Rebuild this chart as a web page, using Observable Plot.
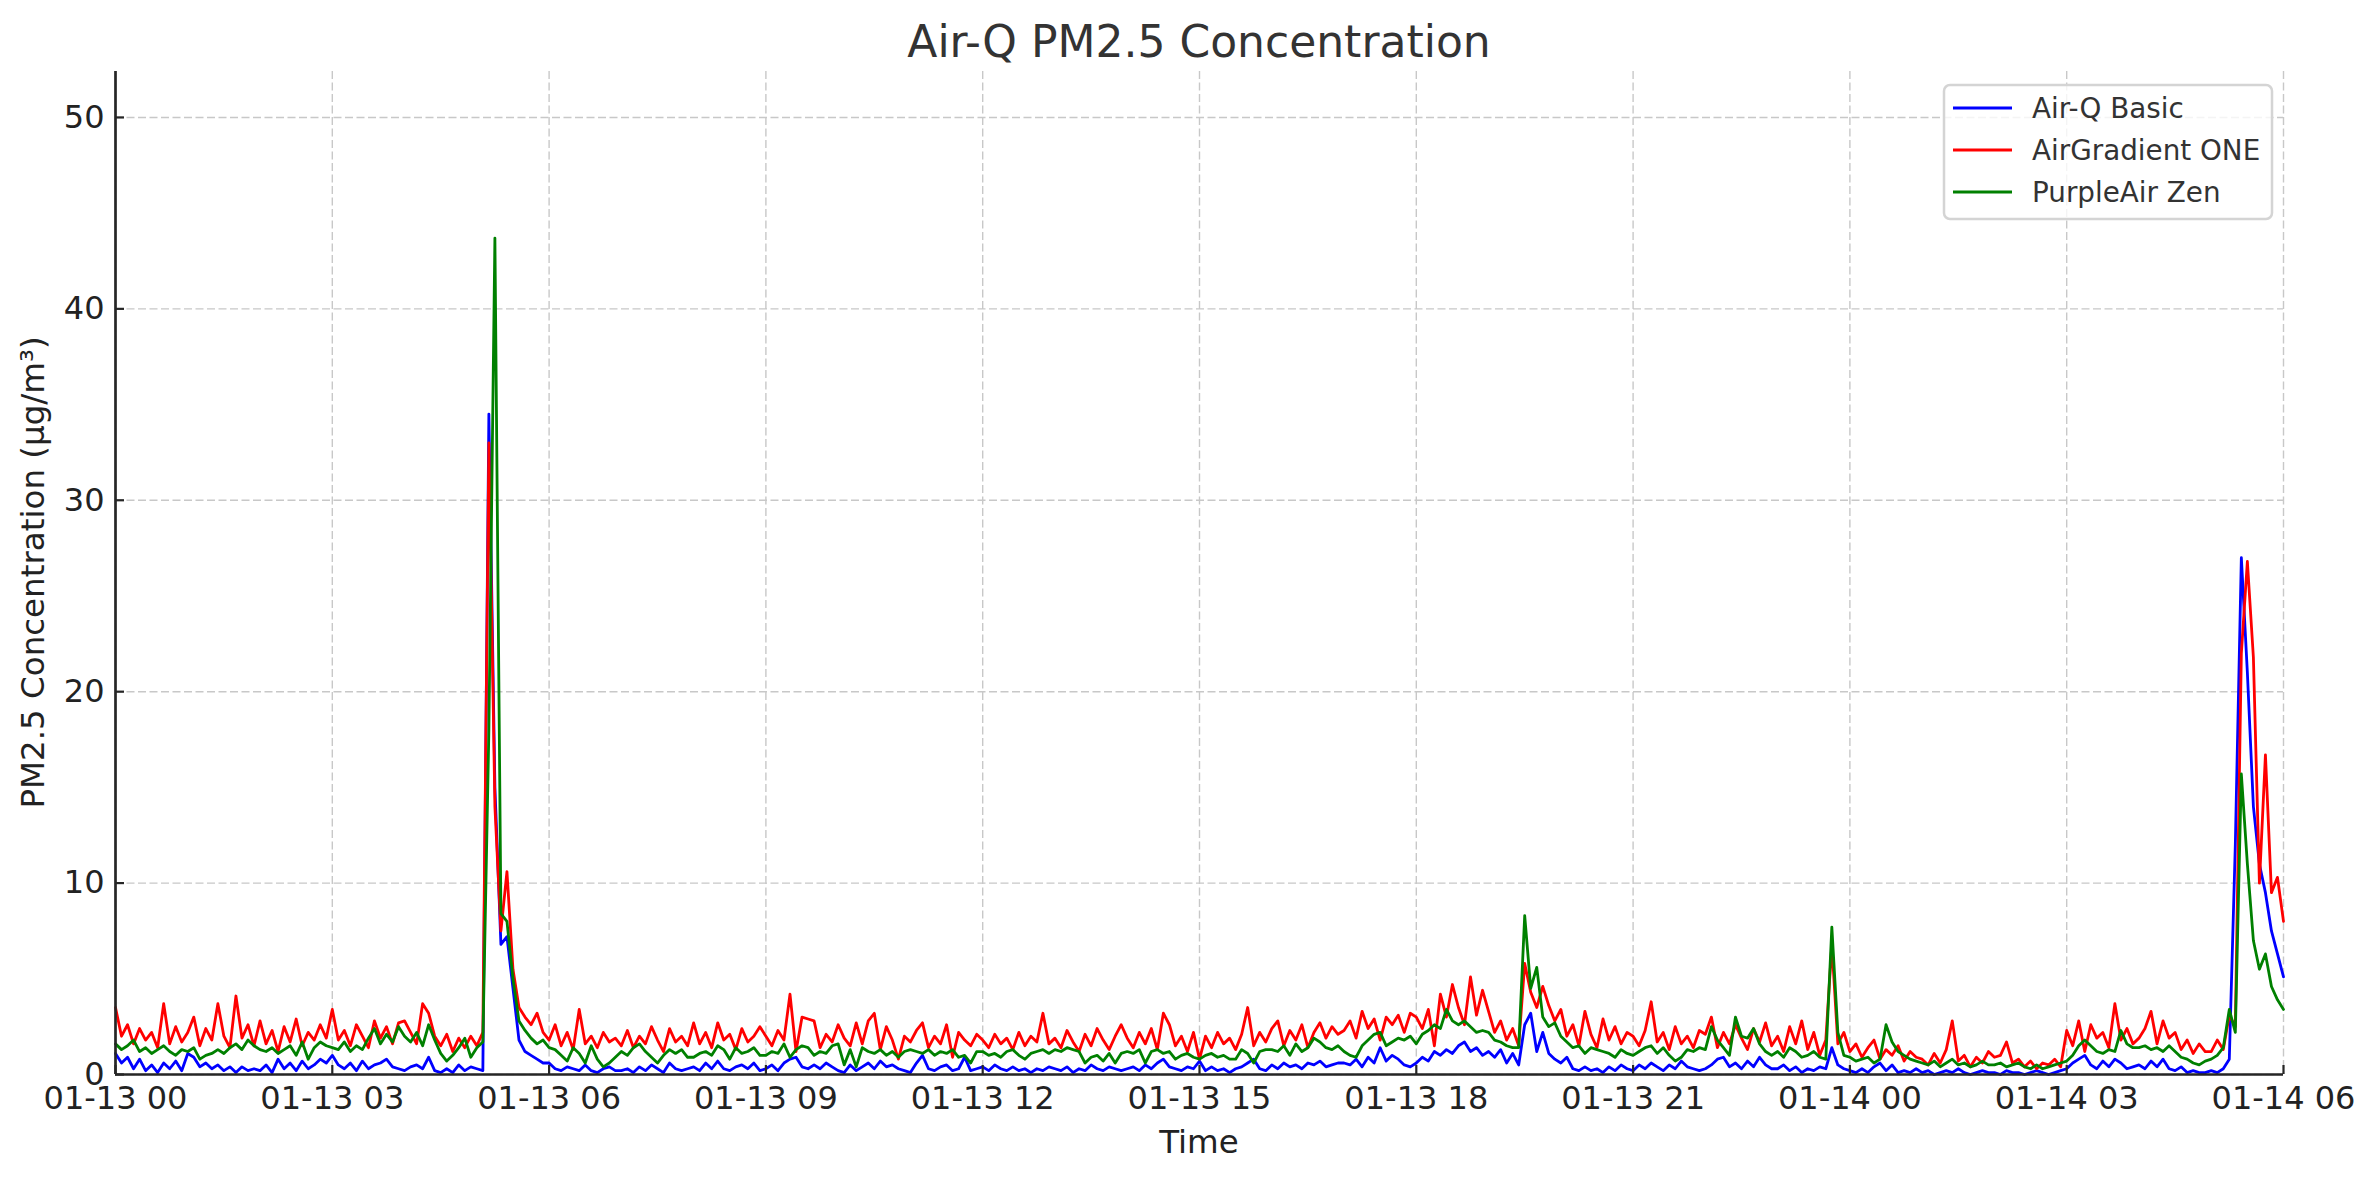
<!DOCTYPE html>
<html>
<head>
<meta charset="utf-8">
<script src="https://cdn.jsdelivr.net/npm/d3@7"></script>
<script src="https://cdn.jsdelivr.net/npm/@observablehq/plot@0.6"></script>
<style>
html, body { margin: 0; padding: 0; background: #fff; overflow: hidden; }
#chart { width: 2379px; height: 1180px; }
</style>
</head>
<body>
<div id="chart"></div>
<script>
// ---- data (5-minute samples from 01-13 00:00 to 01-14 06:00) ----
const startTime = Date.UTC(2024, 0, 13, 0, 0);
const stepMinutes = 5;

const seriesNames = ["Air-Q Basic", "AirGradient ONE", "PurpleAir Zen"];
const seriesColors = ["#0000ff", "#ff0000", "#008000"];

const airQBasic = [
  1.1,0.6,0.9,0.3,0.8,0.2,0.5,0.1,0.6,0.3,0.7,0.2,
  1.1,0.9,0.4,0.6,0.3,0.5,0.2,0.4,0.1,0.4,0.2,0.3,
  0.2,0.5,0.1,0.8,0.3,0.6,0.2,0.7,0.3,0.5,0.8,0.6,
  1.0,0.5,0.3,0.6,0.2,0.7,0.3,0.5,0.6,0.8,0.4,0.3,
  0.2,0.4,0.5,0.3,0.9,0.2,0.1,0.3,0.1,0.5,0.2,0.4,
  0.3,0.2,34.5,15.0,6.8,7.2,4.5,1.8,1.2,1.0,0.8,0.6,
  0.6,0.3,0.2,0.4,0.3,0.2,0.5,0.2,0.1,0.3,0.4,0.2,
  0.2,0.3,0.1,0.4,0.2,0.5,0.3,0.1,0.6,0.3,0.2,0.3,
  0.4,0.2,0.6,0.3,0.7,0.3,0.2,0.4,0.5,0.3,0.6,0.2,
  0.3,0.5,0.2,0.6,0.8,0.9,0.4,0.3,0.5,0.3,0.6,0.4,
  0.2,0.1,0.5,0.2,0.4,0.6,0.3,0.7,0.4,0.5,0.3,0.2,
  0.1,0.6,1.0,0.3,0.2,0.4,0.5,0.2,0.3,0.9,0.2,0.3,
  0.4,0.2,0.5,0.3,0.2,0.4,0.2,0.3,0.1,0.3,0.2,0.4,
  0.3,0.2,0.4,0.1,0.3,0.2,0.5,0.3,0.2,0.4,0.3,0.2,
  0.3,0.4,0.2,0.5,0.3,0.6,0.8,0.4,0.3,0.2,0.4,0.3,
  0.7,0.2,0.4,0.2,0.3,0.1,0.3,0.4,0.6,0.8,0.3,0.2,
  0.5,0.3,0.6,0.4,0.5,0.3,0.6,0.5,0.7,0.4,0.5,0.6,
  0.6,0.5,0.8,0.4,0.9,0.6,1.4,0.7,1.0,0.8,0.5,0.4,
  0.6,0.9,0.7,1.2,1.0,1.3,1.1,1.5,1.7,1.2,1.4,1.0,
  1.2,0.9,1.3,0.6,1.1,0.5,2.6,3.2,1.2,2.2,1.1,0.8,
  0.6,0.9,0.3,0.2,0.4,0.2,0.3,0.1,0.4,0.2,0.5,0.3,
  0.2,0.5,0.3,0.6,0.4,0.2,0.5,0.3,0.7,0.4,0.3,0.2,
  0.3,0.5,0.8,0.9,0.4,0.6,0.3,0.7,0.4,0.9,0.5,0.3,
  0.3,0.5,0.2,0.4,0.1,0.3,0.2,0.4,0.3,1.4,0.5,0.3,
  0.2,0.1,0.3,0.1,0.4,0.6,0.2,0.5,0.1,0.2,0.1,0.3,
  0.1,0.2,0.0,0.1,0.2,0.1,0.3,0.1,0.0,0.1,0.2,0.1,
  0.1,0.0,0.2,0.1,0.1,0.0,0.1,0.2,0.1,0.0,0.1,0.2,
  0.3,0.6,0.8,1.0,0.5,0.3,0.7,0.4,0.8,0.6,0.3,0.4,
  0.5,0.3,0.7,0.4,0.8,0.3,0.2,0.4,0.1,0.2,0.1,0.1,
  0.2,0.1,0.3,0.8,12.0,27.0,21.0,14.0,11.0,9.5,7.5,6.3,
  5.1
];

const airGradientOne = [
  3.5,2.0,2.6,1.6,2.4,1.8,2.2,1.4,3.7,1.6,2.5,1.7,
  2.2,3.0,1.5,2.4,1.8,3.7,2.0,1.4,4.1,1.9,2.6,1.5,
  2.8,1.6,2.3,1.2,2.5,1.7,2.9,1.5,2.2,1.8,2.6,1.9,
  3.4,1.8,2.3,1.5,2.6,2.0,1.4,2.8,1.9,2.5,1.6,2.7,
  2.8,2.2,1.6,3.7,3.2,2.0,1.5,2.1,1.2,1.9,1.4,2.0,
  1.5,2.2,33.0,14.0,7.5,10.6,5.5,3.5,3.0,2.6,3.2,2.2,
  1.8,2.6,1.5,2.2,1.3,3.4,1.6,2.0,1.4,2.2,1.7,1.9,
  1.5,2.3,1.4,2.0,1.6,2.5,1.8,1.2,2.4,1.7,2.0,1.5,
  2.7,1.6,2.2,1.4,2.7,1.8,2.1,1.3,2.4,1.7,2.0,2.5,
  2.0,1.5,2.3,1.8,4.2,1.2,3.0,2.9,2.8,1.4,2.1,1.7,
  2.6,1.9,1.5,2.7,1.6,2.8,3.2,1.3,2.5,1.8,0.8,2.0,
  1.7,2.3,2.7,1.4,2.0,1.6,2.6,0.9,2.2,1.8,1.5,2.1,
  1.8,1.4,2.1,1.6,1.9,1.3,2.2,1.5,2.0,1.7,3.2,1.6,
  1.9,1.4,2.3,1.7,1.2,2.1,1.5,2.4,1.8,1.3,2.0,2.6,
  1.9,1.4,2.2,1.6,2.4,1.3,3.2,2.6,1.5,2.0,1.2,2.2,
  0.8,2.0,1.4,2.2,1.6,1.9,1.3,2.1,3.5,1.5,2.2,1.7,
  2.4,2.8,1.5,2.3,1.8,2.6,1.4,2.2,2.7,1.9,2.5,2.1,
  2.3,2.8,1.9,3.3,2.4,2.9,1.8,3.0,2.6,3.1,2.2,3.2,
  3.0,2.4,3.4,1.5,4.2,3.0,4.7,3.5,2.6,5.1,3.1,4.4,
  3.3,2.2,2.8,1.8,2.4,1.5,5.8,4.3,3.5,4.6,3.6,2.8,
  3.4,2.0,2.6,1.5,3.3,2.1,1.4,2.9,1.8,2.5,1.6,2.2,
  2.0,1.5,2.3,3.8,1.7,2.2,1.3,2.5,1.6,2.0,1.4,2.3,
  2.1,3.0,1.4,2.2,1.6,2.6,1.9,1.3,2.4,1.7,2.7,1.5,
  2.0,1.2,2.5,1.6,2.8,1.3,2.2,1.0,1.8,6.8,1.6,2.2,
  1.2,1.6,0.9,1.4,1.8,0.8,1.3,1.0,1.5,0.7,1.2,0.9,
  0.8,0.5,1.1,0.6,1.3,2.8,0.7,1.0,0.4,0.9,0.6,1.2,
  0.9,1.0,1.7,0.6,0.8,0.4,0.7,0.3,0.6,0.5,0.8,0.4,
  2.3,1.5,2.8,1.2,2.6,1.9,2.2,1.4,3.7,1.8,2.4,1.6,
  1.9,2.4,3.3,1.6,2.8,1.9,2.2,1.3,1.8,1.1,1.6,1.2,
  1.2,1.8,1.3,3.1,2.5,22.0,26.8,21.8,10.0,16.7,9.5,10.3,
  8.0
];

const purpleAirZen = [
  1.6,1.3,1.5,1.8,1.2,1.4,1.1,1.3,1.5,1.2,1.0,1.3,
  1.2,1.4,0.8,1.0,1.1,1.3,1.1,1.4,1.6,1.3,1.8,1.5,
  1.3,1.2,1.4,1.1,1.3,1.5,1.0,1.7,0.8,1.4,1.7,1.5,
  1.4,1.3,1.7,1.2,1.5,1.3,1.9,2.4,1.6,2.1,1.7,2.5,
  2.0,1.7,2.2,1.5,2.6,1.8,1.1,0.7,1.0,1.4,1.9,0.9,
  1.4,1.7,18.0,43.7,8.4,8.0,5.0,2.8,2.3,1.9,1.6,1.8,
  1.4,1.3,1.0,0.7,1.4,1.1,0.6,1.5,0.8,0.4,0.6,0.9,
  1.2,1.0,1.4,1.6,1.2,0.9,0.6,1.0,1.3,1.1,1.3,0.9,
  0.9,1.1,1.2,1.0,1.5,1.3,0.8,1.4,1.1,1.2,1.4,1.0,
  1.0,1.2,1.1,1.6,0.9,1.3,1.5,1.4,1.0,1.2,1.1,1.5,
  1.6,0.5,1.3,0.4,1.4,1.2,1.1,1.3,1.0,1.2,0.9,1.2,
  1.3,1.2,1.1,1.3,1.0,1.2,1.1,1.3,0.9,1.0,0.6,1.2,
  1.2,1.0,1.1,0.9,1.2,1.3,1.0,0.8,1.1,1.2,1.3,1.1,
  1.3,1.2,1.4,1.3,1.2,0.6,0.9,1.0,0.7,1.1,0.6,1.1,
  1.2,1.1,1.3,0.6,1.2,1.3,1.1,1.2,0.8,1.0,1.1,0.9,
  0.8,1.0,1.1,0.9,1.0,0.8,0.8,1.3,1.1,0.6,1.2,1.3,
  1.3,1.2,1.5,1.0,1.6,1.2,1.4,1.9,1.7,1.4,1.3,1.5,
  1.2,1.0,0.9,1.5,1.8,2.1,2.2,1.5,1.7,1.9,1.8,2.0,
  1.6,2.1,2.3,2.6,2.4,3.4,2.8,2.6,2.8,2.5,2.2,2.3,
  2.2,1.8,1.7,1.5,1.4,1.4,8.3,4.5,5.6,3.0,2.5,2.7,
  2.0,1.7,1.4,1.5,1.1,1.4,1.3,1.2,1.1,0.9,1.3,1.1,
  1.0,1.2,1.4,1.5,1.1,1.4,1.0,0.7,0.9,1.3,1.2,1.4,
  1.3,2.5,1.8,1.4,1.0,3.0,2.0,1.9,2.4,1.6,1.2,1.0,
  1.2,0.9,1.4,1.2,0.9,1.0,1.2,0.9,0.8,7.7,2.2,1.0,
  0.9,0.7,0.8,0.9,0.6,0.8,2.6,1.7,1.2,1.0,0.8,0.7,
  0.6,0.5,0.7,0.4,0.6,0.8,0.5,0.6,0.4,0.5,0.7,0.5,
  0.5,0.6,0.4,0.5,0.6,0.4,0.3,0.5,0.3,0.4,0.5,0.6,
  0.7,1.0,1.5,1.8,1.5,1.2,1.1,1.3,1.2,2.3,1.6,1.4,
  1.4,1.5,1.3,1.4,1.2,1.5,1.2,0.9,0.8,0.6,0.5,0.7,
  0.8,1.0,1.4,3.4,2.2,15.7,11.0,7.0,5.5,6.3,4.6,3.9,
  3.4
];

const yTickValues = [0, 10, 20, 30, 40, 50];
const xTickHours = [0, 3, 6, 9, 12, 15, 18, 21, 24, 27, 30];
const yMax = 52.4;
const spanHours = 30;

// ---- layout ----
const W = 2379, H = 1180;
const mL = 115, mR = 96, mT = 71, mB = 106;
const plotW = W - mL - mR, plotH = H - mT - mB;
const font = "DejaVu Sans, sans-serif";

const toRows = values => values.map((v, i) => ({time: new Date(startTime + i * stepMinutes * 60000), value: v}));
const seriesData = [airQBasic, airGradientOne, purpleAirZen].map(toRows);
const xTicks = xTickHours.map(h => new Date(startTime + h * 3600000));
const gridStyle = {stroke: "#c8c8c8", strokeOpacity: 1, strokeWidth: 1.4, strokeDasharray: "8,3.5"};
const axisColor = "#262626";

const chart = Plot.plot({
  width: W, height: H,
  marginLeft: mL, marginRight: mR, marginTop: mT, marginBottom: mB,
  style: {fontFamily: font, background: "#fff", overflow: "visible"},
  x: {type: "utc", domain: [new Date(startTime), new Date(startTime + spanHours * 3600000)]},
  y: {type: "linear", domain: [0, yMax]},
  marks: [
    Plot.gridX(xTicks, gridStyle),
    Plot.gridY(yTickValues, gridStyle),
    ...seriesData.map((rows, k) => Plot.lineY(rows, {
      x: "time", y: "value", stroke: seriesColors[k], strokeWidth: 2.8, strokeLinejoin: "round"
    })),
    Plot.ruleX(xTicks, {x: d => d, insetTop: plotH - 9, stroke: axisColor, strokeWidth: 2.2}),
    Plot.ruleY(yTickValues, {y: d => d, insetRight: plotW - 9, stroke: axisColor, strokeWidth: 2.2}),
    Plot.ruleX([new Date(startTime)], {stroke: axisColor, strokeWidth: 2.7}),
    Plot.ruleY([0], {stroke: axisColor, strokeWidth: 2.7}),
    Plot.axisX(xTicks, {
      tickSize: 0, tickPadding: 12, tickFormat: d3.utcFormat("%m-%d %H"),
      fontSize: 32, fill: "#222", label: null
    }),
    Plot.axisY(yTickValues, {
      tickSize: 0, tickPadding: 11, fontSize: 32, fill: "#222", label: null
    })
  ]
});

document.getElementById("chart").appendChild(chart);
const svg = d3.select(chart);

// title
svg.append("text")
  .attr("x", mL + plotW / 2).attr("y", 57)
  .attr("text-anchor", "middle")
  .attr("font-family", font).attr("font-size", 44)
  .attr("fill", "#333")
  .text("Air-Q PM2.5 Concentration");

// x label
svg.append("text")
  .attr("x", mL + plotW / 2).attr("y", 1153)
  .attr("text-anchor", "middle")
  .attr("font-family", font).attr("font-size", 32.5)
  .attr("fill", "#222")
  .text("Time");

// y label
svg.append("text")
  .attr("transform", `translate(44,${mT + plotH / 2}) rotate(-90)`)
  .attr("text-anchor", "middle")
  .attr("font-family", font).attr("font-size", 32.5)
  .attr("fill", "#222")
  .text("PM2.5 Concentration (µg/m³)");

// legend
const lg = svg.append("g").attr("text-anchor", "start");
lg.append("rect")
  .attr("x", 1944).attr("y", 85).attr("width", 328).attr("height", 134)
  .attr("rx", 6).attr("ry", 6)
  .attr("fill", "#fff").attr("fill-opacity", 0.8)
  .attr("stroke", "#d4d4d4").attr("stroke-width", 2.5);
seriesNames.forEach((name, k) => {
  const cy = 108 + k * 42;
  lg.append("line")
    .attr("x1", 1953).attr("x2", 2012).attr("y1", cy).attr("y2", cy)
    .attr("stroke", seriesColors[k]).attr("stroke-width", 2.8);
  lg.append("text")
    .attr("x", 2032).attr("y", cy + 10)
    .attr("text-anchor", "start")
    .attr("font-family", font).attr("font-size", 27.8)
    .attr("fill", "#333")
    .text(name);
});
</script>
</body>
</html>
